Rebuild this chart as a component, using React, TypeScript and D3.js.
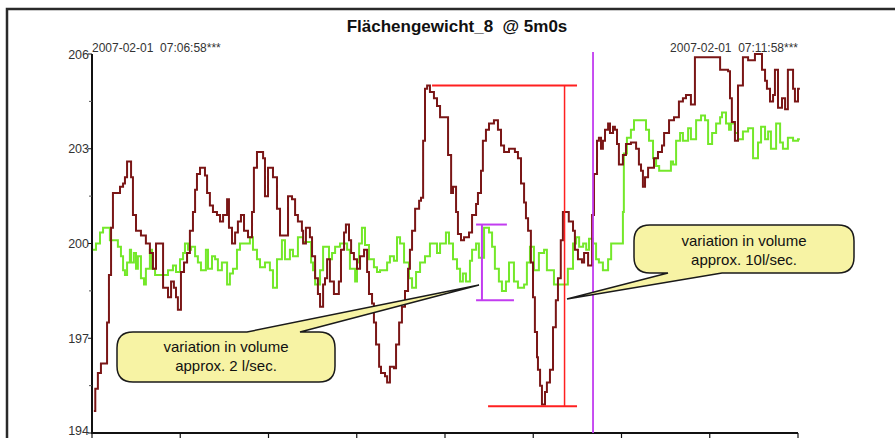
import React from "react";
import * as d3 from "d3";

const redT = [0.8,1.4,2.5,3.8,5.5,6.4,7.2,8.1,8.9,11.9,13.2,14.0,14.9,16.6,17.4,18.7,20.8,22.9,24.6,25.9,27.2,30.2,32.3,33.6,34.8,35.7,36.5,37.8,39.1,40.4,41.6,42.9,43.8,44.6,45.9,48.0,48.9,50.1,51.4,53.1,54.4,55.7,57.4,58.2,59.5,60.8,62.0,63.3,64.6,66.3,68.0,68.8,70.1,72.7,73.5,74.8,76.9,78.6,79.9,83.3,85.0,86.3,87.5,89.2,89.7,90.9,92.6,93.5,94.8,96.0,96.9,98.2,99.0,99.9,101.1,102.8,104.9,105.8,107.1,107.9,109.2,110.1,111.3,112.6,113.9,115.6,116.9,117.7,119.0,119.8,120.7,122.0,122.8,124.5,125.4,126.6,128.3,129.2,130.5,131.7,133.0,134.3,135.1,136.0,137.3,139.0,139.8,140.7,141.5,142.4,143.6,145.3,146.6,147.9,151.3,152.6,153.4,154.7,155.5,156.8,158.1,160.2,161.5,163.2,164.0,165.3,166.1,167.4,168.7,170.8,172.5,173.8,175.1,177.2,179.7,181.0,182.3,183.6,184.4,185.3,186.5,187.4,188.2,189.1,189.5,190.4,191.2,192.5,193.3,194.6,195.9,197.1,198.0,199.2,200.1,202.6,204.4,205.2,206.5,208.2,209.1,210.8,212.5,213.3,214.6,215.4,216.3,217.1,218.0,219.3,220.1,221.4,222.2,223.1,223.9,225.6,226.9,229.0,231.2,232.4,233.3,234.1,235.0,236.3,238.8,240.5,242.2,243.1,245.2,247.3,249.4,251.1,252.4,254.5,256.2,266.9,270.3,271.1,271.9,273.2,274.5,276.6,278.8,281.7,284.7,286.0,286.8,288.1,289.4,290.2,291.5,293.2,294.5,295.7,297.9,298.7,300.0,300.8];
const redV = [194.7,195.4,195.9,196.2,196.2,197.5,199.0,200.5,201.6,201.8,201.9,202.1,202.6,202.1,200.9,200.4,200.25,200.0,199.7,199.2,200.0,198.6,198.3,198.8,198.6,198.3,197.9,199.1,199.4,199.7,200.4,201.0,201.7,202.2,202.4,202.15,201.6,201.2,201.0,200.9,200.7,200.9,201.4,200.5,200.0,200.35,200.7,200.9,200.4,200.2,201.0,202.4,202.9,202.7,201.5,202.4,202.1,201.1,200.25,201.5,201.4,200.9,200.7,200.4,200.0,200.5,200.2,199.6,198.9,198.4,198.0,198.7,198.9,199.5,198.8,198.4,198.8,199.8,200.35,200.6,200.1,199.7,199.5,199.2,199.6,199.8,199.1,198.4,198.1,197.5,196.8,196.1,195.9,195.8,195.6,196.1,196.05,196.8,197.5,198.0,198.5,199.2,199.8,200.4,201.1,201.35,201.45,203.25,204.9,205.0,204.8,204.6,204.35,204.0,202.8,201.6,201.8,201.0,200.3,200.1,200.2,200.35,200.9,201.25,201.6,202.3,203.25,203.6,203.8,203.9,203.6,203.1,202.9,203.0,202.9,202.7,201.9,201.3,200.8,200.4,199.4,198.3,197.2,196.4,196.0,195.5,194.9,195.3,195.6,196.0,197.35,198.2,198.9,200.1,201.0,200.7,200.4,199.8,199.5,199.4,199.7,199.3,200.9,202.2,203.25,203.35,203.0,203.25,203.6,203.8,203.5,203.7,203.6,203.15,202.5,202.8,203.15,203.2,203.0,202.5,202.3,201.8,202.1,202.4,202.7,202.9,203.1,203.5,203.9,204.0,204.5,204.6,204.7,204.4,205.9,205.5,205.45,204.6,203.85,203.25,205.0,205.9,205.8,206.0,205.5,205.15,204.9,204.5,204.7,205.5,204.3,204.6,204.25,205.5,204.9,204.5,204.9,204.9];

const greenT = [0.4,1.7,3.4,4.7,7.6,11.0,12.3,13.2,14.0,14.9,16.1,16.6,17.8,18.7,19.5,20.8,22.1,22.9,24.6,25.5,26.8,32.3,34.4,35.7,37.4,38.7,39.5,40.8,42.1,43.8,45.0,46.3,48.4,49.3,51.0,52.3,53.5,55.2,57.4,58.6,59.9,61.6,62.9,67.1,68.4,70.1,71.4,73.5,75.6,76.9,78.6,80.7,82.0,84.1,85.4,87.5,89.7,93.1,93.9,94.8,96.9,98.2,99.0,100.7,102.0,103.3,105.4,108.4,109.6,111.8,112.6,113.5,114.7,116.0,117.7,119.8,121.1,122.4,125.4,126.6,128.3,129.6,130.9,132.6,134.7,136.0,137.7,139.4,141.5,143.6,146.6,147.9,150.4,151.7,153.4,155.1,156.4,157.6,158.9,160.6,161.5,163.2,164.4,166.6,168.7,170.0,171.2,172.9,174.2,175.9,177.2,179.3,181.0,183.6,184.8,186.1,187.8,189.9,192.1,193.3,196.3,202.2,204.4,205.7,207.0,208.7,210.0,211.2,212.9,214.2,215.4,217.1,219.3,220.6,224.8,225.6,226.0,227.3,229.0,230.3,235.4,236.7,238.4,239.7,241.0,246.0,246.9,248.2,249.9,251.1,253.3,254.5,256.7,258.8,260.5,261.8,263.5,265.2,266.9,267.7,269.4,270.7,271.5,273.2,274.5,276.6,278.8,280.9,283.0,284.3,286.0,287.3,288.5,290.7,292.4,293.6,295.7,297.9,300.0,300.8];
const greenV = [199.8,200.0,200.35,200.5,200.1,199.9,199.6,199.15,199.0,199.4,199.8,199.4,199.7,199.2,199.6,198.9,198.7,199.2,199.8,199.2,199.0,199.15,199.3,199.1,199.5,199.7,200.0,199.8,199.9,199.6,199.4,199.15,199.8,199.2,199.6,199.5,199.15,199.4,198.7,199.05,199.2,199.8,200.0,200.2,199.8,199.5,199.25,199.4,199.15,198.6,199.5,200.1,199.5,199.8,199.6,200.2,200.05,199.4,199.15,198.7,199.15,199.9,199.9,199.5,199.7,199.9,200.0,199.8,199.2,198.8,199.4,200.0,200.5,199.95,199.5,199.25,199.1,199.15,199.4,199.6,199.45,200.2,200.0,199.4,198.9,198.6,199.1,199.4,199.6,200.0,199.7,200.0,200.35,200.0,199.5,199.2,198.8,199.05,198.8,199.45,199.8,200.0,199.55,200.5,200.35,199.9,199.2,198.8,198.5,198.8,199.4,198.8,198.6,198.7,199.4,199.9,199.15,199.7,199.8,199.15,198.7,199.2,200.0,200.2,199.9,200.0,199.8,200.15,200.0,199.5,199.4,199.15,199.5,200.0,200.0,201.0,202.85,203.35,203.6,203.9,203.6,203.25,202.7,202.45,202.3,202.6,202.5,203.25,203.5,203.25,203.65,203.3,203.9,204.05,203.9,203.15,203.5,203.8,204.0,204.15,203.8,203.6,203.8,203.5,203.3,203.55,203.65,202.7,203.2,203.7,203.3,203.55,203.0,203.8,203.2,203.0,203.35,203.25,203.3,203.3];

const yTicks = [194, 197, 200, 203, 206];
const yMinorTicks = [195.5, 198.5, 201.5, 204.5];
const xTicks = [0, 37.5, 75, 112.5, 150, 187.5, 225, 262.5, 300];
const title = "Flächengewicht_8  @ 5m0s";
const startLabel = "2007-02-01  07:06:58***";
const endLabel = "2007-02-01  07:11:58***";
const callout1Lines = ["variation in volume", "approx. 2 l/sec."];
const callout2Lines = ["variation in volume", "approx. 10l/sec."];
// bracket definitions: [tStart, tEnd, value]
const redTop = [144.5, 206.1, 205.0];
const redBottom = [168.3, 206.1, 194.85];
const redVertT = 200.8;
const purpleTop = [163.2, 176.3, 200.6];
const purpleBottom = [163.2, 179.3, 198.2];
const purpleVertT = 165.7;
const markerT = 212.9;

const FONT = "'Liberation Sans', Arial, sans-serif";

function calloutPath(x1: number, y1: number, x2: number, y2: number, r: number, side: "top" | "bottom", b1: number, b2: number, tx: number, ty: number) {
  const p = d3.path();
  p.moveTo(x1 + r, y1);
  if (side === "top") {
    p.lineTo(b1, y1);
    p.lineTo(tx, ty);
    p.lineTo(b2, y1);
  }
  p.lineTo(x2 - r, y1);
  p.quadraticCurveTo(x2, y1, x2, y1 + r);
  p.lineTo(x2, y2 - r);
  p.quadraticCurveTo(x2, y2, x2 - r, y2);
  if (side === "bottom") {
    p.lineTo(b2, y2);
    p.lineTo(tx, ty);
    p.lineTo(b1, y2);
  }
  p.lineTo(x1 + r, y2);
  p.quadraticCurveTo(x1, y2, x1, y2 - r);
  p.lineTo(x1, y1 + r);
  p.quadraticCurveTo(x1, y1, x1 + r, y1);
  p.closePath();
  return p.toString();
}

export default function App() {
  const W = 895, H = 438;
  const x = d3.scaleLinear().domain([0, 300]).range([92, 798]);
  const y = d3.scaleLinear().domain([194, 206]).range([433, 54]);
  const line = d3
    .line<[number, number]>()
    .x((d) => x(d[0]))
    .y((d) => y(d[1]))
    .curve(d3.curveStepAfter);
  const redData = redT.map((t, i) => [t, redV[i]] as [number, number]);
  const greenData = greenT.map((t, i) => [t, greenV[i]] as [number, number]);

  const red = "#ff2020";
  const purple = "#c23cf0";

  return (
    <svg width={W} height={H} style={{ position: "absolute", left: 0, top: 0, background: "#fff" }} fontFamily={FONT}>
      <rect x={0} y={0} width={W} height={H} fill="#fff" />
      <path d={`M7,${H} L7,9 L${W},9`} fill="none" stroke="#2a2a2a" strokeWidth={2.5} />
      <text x={457} y={32} textAnchor="middle" fontSize={17} fontWeight="bold" fill="#111" style={{ whiteSpace: "pre" }}>
        {title}
      </text>
      <text x={92} y={52} fontSize={12} fill="#333" style={{ whiteSpace: "pre" }}>{startLabel}</text>
      <text x={798} y={52} textAnchor="end" fontSize={12} fill="#333" style={{ whiteSpace: "pre" }}>{endLabel}</text>

      <line x1={92} x2={92} y1={y(206)} y2={y(194)} stroke="#111" strokeWidth={2} />
      {yTicks.map((v) => (
        <g key={v}>
          <line x1={88} x2={92} y1={y(v)} y2={y(v)} stroke="#111" strokeWidth={1} />
          <text x={89} y={Math.min(y(v) + 4.5, 435)} textAnchor="end" fontSize={12.5} fill="#333">{v}</text>
        </g>
      ))}
      {yMinorTicks.map((v) => (
        <line key={v} x1={89} x2={92} y1={y(v)} y2={y(v)} stroke="#555" strokeWidth={1} />
      ))}
      <line x1={91} x2={x(300)} y1={433} y2={433} stroke="#111" strokeWidth={2} />
      {xTicks.map((t) => (
        <line key={t} x1={x(t)} x2={x(t)} y1={433} y2={439} stroke="#111" strokeWidth={1.2} />
      ))}

      <path d={line(greenData) || ""} fill="none" stroke="#74e82a" strokeWidth={2} />
      <path d={line(redData) || ""} fill="none" stroke="#7a1616" strokeWidth={2} />

      <g stroke={red} strokeWidth={2} fill="none">
        <line x1={x(redTop[0])} x2={x(redTop[1])} y1={y(redTop[2])} y2={y(redTop[2])} />
        <line x1={x(redBottom[0])} x2={x(redBottom[1])} y1={y(redBottom[2])} y2={y(redBottom[2])} />
        <line x1={x(redVertT)} x2={x(redVertT)} y1={y(redTop[2])} y2={y(redBottom[2])} strokeWidth={1.5} />
      </g>
      <g stroke={purple} strokeWidth={2} fill="none">
        <line x1={x(purpleTop[0])} x2={x(purpleTop[1])} y1={y(purpleTop[2])} y2={y(purpleTop[2])} />
        <line x1={x(purpleBottom[0])} x2={x(purpleBottom[1])} y1={y(purpleBottom[2])} y2={y(purpleBottom[2])} />
        <line x1={x(purpleVertT)} x2={x(purpleVertT)} y1={y(purpleTop[2])} y2={y(purpleBottom[2])} />
      </g>
      <line x1={x(markerT)} x2={x(markerT)} y1={52} y2={433} stroke={purple} strokeWidth={1.8} />

      <path d={calloutPath(117, 332, 335, 382, 16, "top", 247, 300, 479, 285)} fill="#f7f3a4" stroke="#1a1a1a" strokeWidth={1.5} />
      {callout1Lines.map((s, i) => (
        <text key={i} x={226} y={352 + i * 19} textAnchor="middle" fontSize={15} fill="#111">{s}</text>
      ))}
      <path d={calloutPath(634, 225, 854, 273, 16, "bottom", 668, 722, 567, 299)} fill="#f7f3a4" stroke="#1a1a1a" strokeWidth={1.5} />
      {callout2Lines.map((s, i) => (
        <text key={i} x={744} y={246 + i * 19} textAnchor="middle" fontSize={15} fill="#111">{s}</text>
      ))}
    </svg>
  );
}
